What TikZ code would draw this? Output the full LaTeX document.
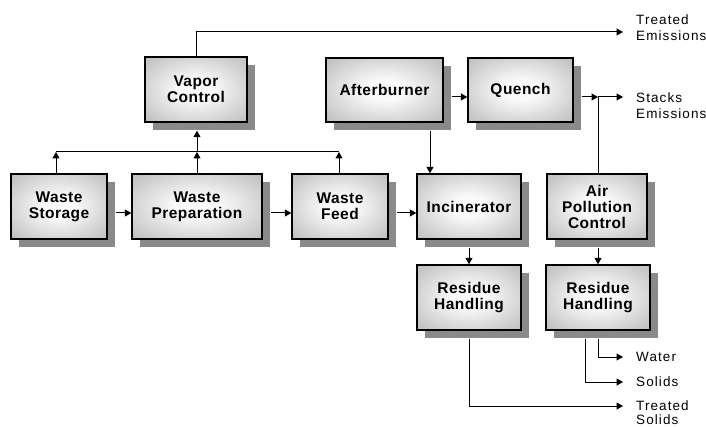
\documentclass[tikz,border=0pt]{standalone}
\usepackage{fontspec}
\setmainfont{Liberation Sans}
\usetikzlibrary{arrows.meta,shadows,calc}
\definecolor{glowin}{RGB}{250,250,250}
\definecolor{glowmid}{RGB}{205,205,205}
\definecolor{glowout}{RGB}{168,168,168}
\definecolor{shadowgray}{RGB}{138,138,138}
\pgfdeclareradialshading{boxglow}{\pgfpoint{0bp}{0bp}}{color(0bp)=(glowin); color(8bp)=(glowin); color(28bp)=(glowmid); color(46bp)=(glowout); color(75bp)=(glowout)}
\tikzset{
  box/.style={draw=black, line width=1.4pt, shading=boxglow, inner sep=0pt,
    minimum height=65pt, align=center,
    font=\fontsize{15.5}{16}\selectfont\bfseries\addfontfeature{LetterSpace=3},
    drop shadow={shadow xshift=8pt, shadow yshift=-8pt, fill=shadowgray, opacity=1, draw=none}},
  arr/.style={line width=1pt, -{Triangle[length=6.5pt,width=7pt]}},
  ln/.style={line width=1pt},
  lbl/.style={anchor=west, inner sep=0pt, align=left,
    font=\fontsize{13.5}{16}\selectfont\addfontfeature{LetterSpace=8}}
}
\begin{document}
\begin{tikzpicture}[x=1pt,y=-1pt]
\useasboundingbox (0,0) rectangle (706,427);
% boxes
\node[box, minimum width=102pt] (vapor) at (196,89.5) {Vapor\\Control};
\node[box, minimum width=96pt] (storage) at (59,206.5) {Waste\\Storage};
\node[box, minimum width=130pt] (prep) at (197,206.5) {Waste\\Preparation};
\node[box, minimum width=96pt] (feed) at (340,206.5) {Waste\\Feed};
\node[box, minimum width=117pt, minimum height=64pt] (after) at (384.5,90) {Afterburner};
\node[box, minimum width=105pt, minimum height=64pt] (quench) at (520.5,90) {Quench};
\node[box, minimum width=104pt] (incin) at (469,206.5) {Incinerator};
\node[box, minimum width=100pt] (apc) at (597,206.5) {Air\\Pollution\\Control};
\node[box, minimum width=104pt] (res1) at (469,297.5) {Residue\\Handling};
\node[box, minimum width=104pt] (res2) at (598,297.5) {Residue\\Handling};
% labels
\node[lbl] (tEm) at (636,28) {Treated\\Emissions};
\node[lbl] (sEm) at (636,105.5) {Stacks\\Emissions};
\node[lbl] (wat) at (636,357) {Water};
\node[lbl] (sol) at (636,382) {Solids};
\node[lbl, font=\fontsize{13.5}{14}\selectfont\addfontfeature{LetterSpace=8}] (tSo) at (636,413) {Treated\\Solids};
% coordinates
\coordinate (tE) at (623,32);
\coordinate (sE) at (623,97);
\coordinate (j) at (598,97);
\coordinate (b1) at (56,152);
\coordinate (b2) at (197,152);
\coordinate (b3) at (339,152);
\coordinate (r1) at (0,213);
\coordinate (ai) at (430,0);
\coordinate (wT) at (623,357);
\coordinate (sO) at (623,382);
\coordinate (tS) at (623,406);
% connectors
\draw[arr] (vapor.north) |- (tE);
\draw[ln] (b1) -- (b3);
\draw[arr] (storage.north -| b1) -- (b1);
\draw[arr] (prep.north -| b2) -- (b2);
\draw[arr] (feed.north -| b3) -- (b3);
\draw[arr] (b2) -- ($(vapor.south -| b2)+(0,8)$);
\draw[arr] ($(storage.east |- r1)+(8,0)$) -- (prep.west |- r1);
\draw[arr] ($(prep.east |- r1)+(8,0)$) -- (feed.west |- r1);
\draw[arr] ($(feed.east |- r1)+(8,0)$) -- (incin.west |- r1);
\draw[arr] ($(after.east |- j)+(8,0)$) -- (quench.west |- j);
\draw[arr] ($(quench.east |- j)+(8,0)$) -- (j);
\draw[arr] (j) -- (sE);
\draw[ln] (apc.north -| j) -- (j);
\draw[arr] ($(after.south -| ai)+(0,8)$) -- (incin.north -| ai);
\draw[arr] ($(incin.south)+(0,8)$) -- (res1.north);
\draw[arr] ($(apc.south -| res2.north)+(0,8)$) -- (res2.north);
\draw[arr] ($(res1.south)+(0,8)$) |- (tS);
\draw[arr] ($(res2.south)+(0,8)$) |- (wT);
\draw[arr] ($(res2.south)+(-13,8)$) |- (sO);
\end{tikzpicture}
\end{document}
